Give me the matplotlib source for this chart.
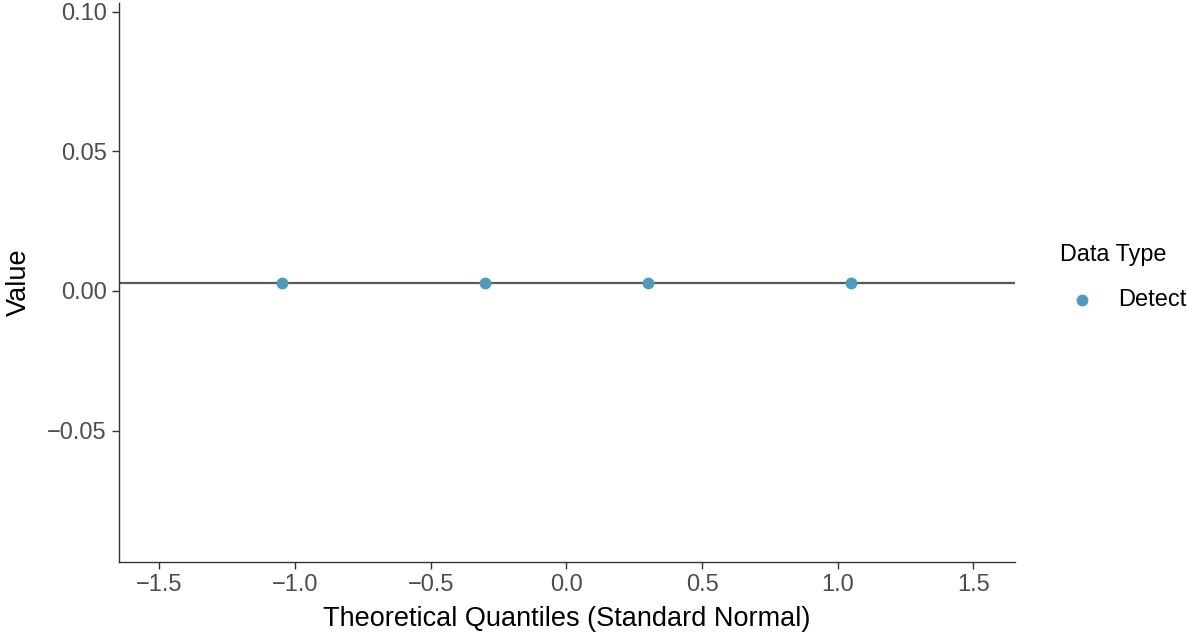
import numpy as np
import matplotlib
matplotlib.use("Agg")
import matplotlib.pyplot as plt
from matplotlib.lines import Line2D

# QQ points (theoretical quantiles vs observed values)
theoretical = [-1.049, -0.299, 0.299, 1.049]
values = [0.003, 0.003, 0.003, 0.003]
data_type = "Detect"
ref_intercept = 0.003
ref_slope = 0.0

x_ticks = [-1.5, -1.0, -0.5, 0.0, 0.5, 1.0, 1.5]
y_ticks = [-0.05, 0.00, 0.05, 0.10]

plt.rcParams['font.family'] = ['Liberation Sans', 'DejaVu Sans']

fig = plt.figure(figsize=(11.87, 6.35), dpi=100)
ax = fig.add_axes([0.1003, 0.1150, 0.7548, 0.8803])

xlim = (-1.648, 1.653)
ax.set_xlim(*xlim)
ax.set_ylim(-0.0971, 0.1032)

xs = np.array(xlim)
ax.plot(xs, ref_intercept + ref_slope * xs, color="#5a5a5a", lw=1.6, zorder=2)
ax.scatter(theoretical, values, s=72, color="#4A9CBE", zorder=3, linewidths=0)

for side in ["top", "right"]:
    ax.spines[side].set_visible(False)
for side in ["left", "bottom"]:
    ax.spines[side].set_color("#333333")
    ax.spines[side].set_linewidth(1.0)

ax.set_xticks(x_ticks)
ax.set_xticklabels([f"{t:.1f}".replace("-", "\u2212") for t in x_ticks])
ax.set_yticks(y_ticks)
ax.set_yticklabels([f"{t:.2f}".replace("-", "\u2212") for t in y_ticks])
ax.tick_params(axis="both", colors="#333333", labelcolor="#4D4D4D",
               labelsize=17, length=5, width=1.0, pad=4)

ax.set_xlabel("Theoretical Quantiles (Standard Normal)", fontsize=19.5, labelpad=7)
ax.set_ylabel("Value", fontsize=19.5, labelpad=11)

# legend
fig.text(1060 / 1187, 1 - 255 / 635, "Data Type", fontsize=16.8,
         ha="left", va="center")
fig.add_artist(Line2D([1082 / 1187], [1 - 300 / 635], marker="o", markersize=8.5,
                      color="#4A9CBE", markeredgewidth=0, transform=fig.transFigure))
fig.text(1118 / 1187, 1 - 300 / 635, data_type, fontsize=17,
         ha="left", va="center")

fig.savefig("out.png", dpi=100)
